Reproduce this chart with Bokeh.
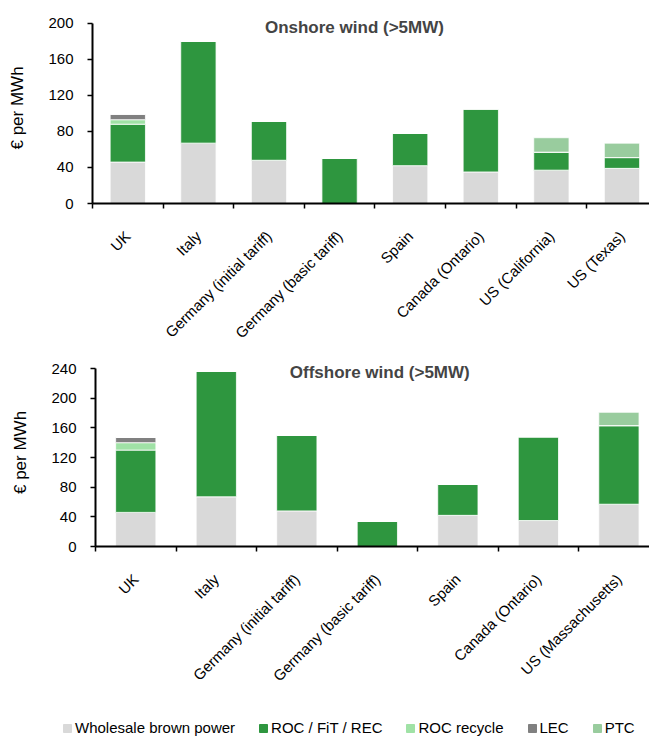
from bokeh.plotting import figure
from bokeh.models import Range1d, FixedTicker, Label, Legend, LegendItem, ColumnDataSource
from bokeh.layouts import column, row
from bokeh.embed import file_html
from bokeh.resources import INLINE

# ---------------- data ----------------
series = ["Wholesale brown power", "ROC / FiT / REC", "ROC recycle", "LEC", "PTC"]
colors = ["#D9D9D9", "#2E963F", "#A0E2A6", "#808080", "#99CC9E"]

on_countries = ["UK", "Italy", "Germany (initial tariff)", "Germany (basic tariff)",
                "Spain", "Canada (Ontario)", "US (California)", "US (Texas)"]
on_wholesale = [46, 67, 48, 0, 42, 35, 37, 39]
on_roc       = [42, 113, 43, 50, 36, 70, 20, 12]
on_recycle   = [5, 0, 0, 0, 0, 0, 0, 0]
on_lec       = [6, 0, 0, 0, 0, 0, 0, 0]
on_ptc       = [0, 0, 0, 0, 0, 0, 16, 16]
on_yticks    = [0, 40, 80, 120, 160, 200]

off_countries = ["UK", "Italy", "Germany (initial tariff)", "Germany (basic tariff)",
                 "Spain", "Canada (Ontario)", "US (Massachusetts)"]
off_wholesale = [46, 67, 48, 0, 42, 35, 57]
off_roc       = [84, 169, 102, 34, 42, 113, 106]
off_recycle   = [10, 0, 0, 0, 0, 0, 0]
off_lec       = [7, 0, 0, 0, 0, 0, 0]
off_ptc       = [0, 0, 0, 0, 0, 0, 18]
off_yticks    = [0, 40, 80, 120, 160, 200, 240]

FONT = "Liberation Sans"
keys = ["wholesale", "roc", "recycle", "lec", "ptc"]


def make_chart(countries, vals, yticks, yend, title, title_pos, width, height,
               left, top, bottom, xend):
    n = len(countries)
    centers = [i + 0.5 for i in range(n)]
    data = dict(x=centers)
    for k, v in zip(keys, vals):
        data[k] = v
    src = ColumnDataSource(data)
    p = figure(width=width, height=height, output_backend="svg", toolbar_location=None,
               x_range=Range1d(0, xend), y_range=Range1d(0, yend),
               min_border_left=left, min_border_right=0, min_border_top=top,
               min_border_bottom=bottom)
    p.outline_line_color = None
    p.xgrid.visible = False
    p.ygrid.visible = False
    p.vbar_stack(keys, x="x", width=0.5, color=colors, source=src,
                 line_color="white", line_width=0.8)
    # y axis
    ya = p.yaxis[0]
    ya.ticker = FixedTicker(ticks=yticks)
    ya.bounds = (yticks[0], yticks[-1])
    ya.axis_label = "€ per MWh"
    ya.axis_label_text_font = FONT
    ya.axis_label_text_font_size = "17px"
    ya.axis_label_text_font_style = "normal"
    ya.axis_label_text_color = "black"
    ya.axis_label_standoff = 18
    ya.major_label_text_font = FONT
    ya.major_label_text_font_size = "15px"
    ya.major_label_text_color = "black"
    ya.major_label_standoff = 14
    ya.axis_line_width = 2
    ya.axis_line_color = "black"
    ya.major_tick_in = 0
    ya.major_tick_out = 5
    ya.major_tick_line_width = 1.5
    ya.minor_tick_line_color = None
    # x axis
    xa = p.xaxis[0]
    xa.ticker = FixedTicker(ticks=centers, minor_ticks=list(range(n + 1)))
    xa.major_label_overrides = {c: name for c, name in zip(centers, countries)}
    xa.major_tick_out = 0
    xa.major_tick_in = 0
    xa.minor_tick_out = 5
    xa.minor_tick_in = 0
    xa.minor_tick_line_color = "black"
    xa.minor_tick_line_width = 1.5
    xa.axis_line_width = 2
    xa.axis_line_color = "black"
    xa.major_label_orientation = 0.785398
    xa.major_label_text_font = FONT
    xa.major_label_text_font_size = "15px"
    xa.major_label_text_color = "black"
    xa.major_label_standoff = 25
    p.add_layout(Label(x=title_pos[0], y=title_pos[1], text=title, text_font=FONT,
                       text_font_size="17px", text_font_style="bold",
                       text_align="center", text_baseline="middle"))
    return p


p1 = make_chart(on_countries, [on_wholesale, on_roc, on_recycle, on_lec, on_ptc],
                on_yticks, 212, "Onshore wind (>5MW)", (3.71, 195.5),
                649, 350, 92, 12, 145, 7.89)
p2 = make_chart(off_countries, [off_wholesale, off_roc, off_recycle, off_lec, off_ptc],
                off_yticks, 253.5, "Offshore wind (>5MW)", (3.53, 234.5),
                649, 364, 95, 8, 168, 6.88)

# legend strip
p3 = figure(width=649, height=22, output_backend="svg", toolbar_location=None,
            x_range=Range1d(0, 1), y_range=Range1d(0, 1),
            min_border_left=0, min_border_right=0, min_border_top=0, min_border_bottom=0)
p3.outline_line_color = None
p3.axis.visible = False
p3.grid.visible = False
dummies = [p3.vbar(x=[50], top=[1], width=0.1, color=c) for c in colors]
legend = Legend(items=[LegendItem(label=s, renderers=[r]) for s, r in zip(series, dummies)],
                orientation="horizontal", location=(62, 0), padding=0, margin=0,
                spacing=23, glyph_width=10, glyph_height=10, label_standoff=3,
                label_height=16, label_text_font=FONT, label_text_font_size="15px",
                label_text_color="black",
                border_line_alpha=0, background_fill_alpha=0)
p3.add_layout(legend, "center")

layout = column(row(p1), row(p2), row(p3), spacing=0)
open("out.html", "w").write(file_html(layout, INLINE))
